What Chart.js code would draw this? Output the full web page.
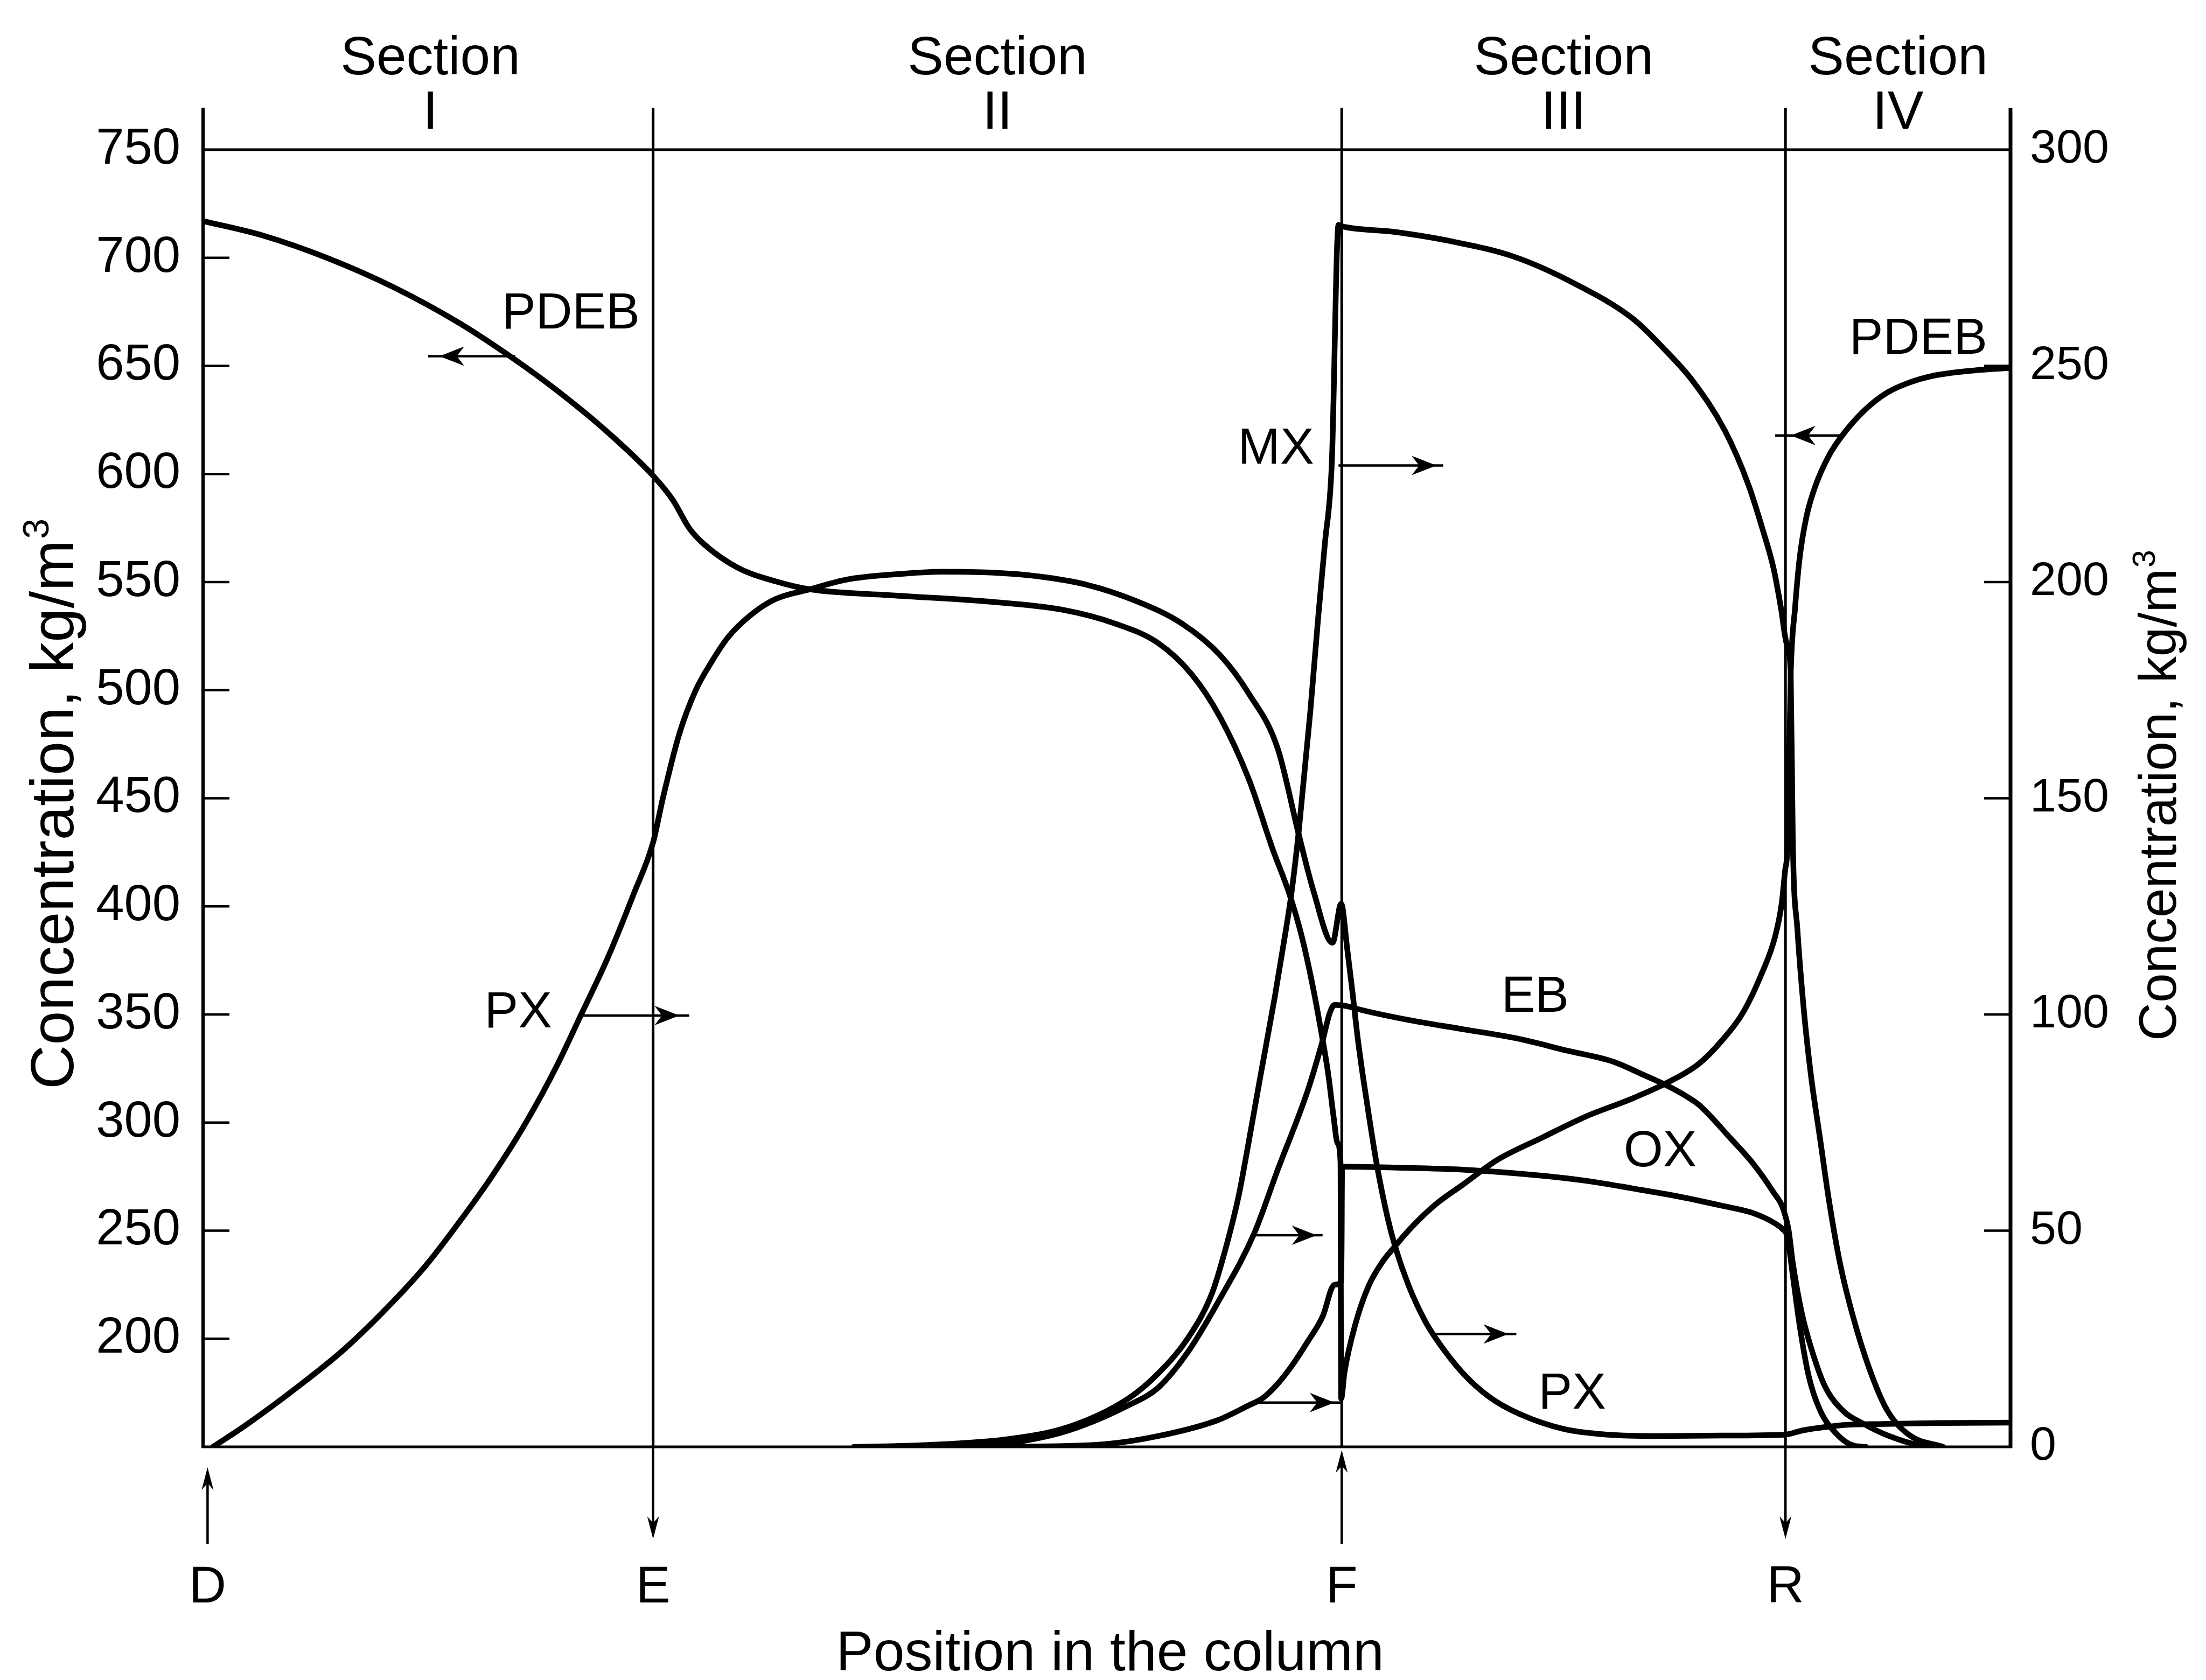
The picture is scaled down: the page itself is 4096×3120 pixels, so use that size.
<!DOCTYPE html>
<html>
<head>
<meta charset="utf-8">
<script src="https://cdn.jsdelivr.net/npm/chart.js@4.4.1/dist/chart.umd.min.js"></script>
<style>
  html, body { margin: 0; padding: 0; background: #ffffff; overflow: hidden; }
  canvas { display: block; }
</style>
</head>
<body>
<canvas id="profile" width="4096" height="3120"></canvas>
<script>
// Concentration profiles along a simulated moving bed column (Parex-type xylene separation).
// Position is expressed as % of the column length, measured from the desorbent inlet.

// Ports and sections
const PORTS = ['D', 'E', 'F', 'R'];
const PORT_POSITION = [0.25, 24.9, 63.0, 87.55];
const PORT_FLOW = ['in', 'out', 'in', 'out'];
const SECTIONS = ['I', 'II', 'III', 'IV'];

// Axis ticks
const LEFT_TICKS = [200, 250, 300, 350, 400, 450, 500, 550, 600, 650, 700, 750];
const RIGHT_TICKS = [0, 50, 100, 150, 200, 250, 300];

// PDEB (desorbent), left axis, kg/m3
const POSITION_PDEB = [0, 3.27, 6.91, 10.54, 14.18, 17.27, 19.63, 22.36, 24.9, 25.99,
  26.9, 27.72, 29.57, 31.69, 33.54, 38.3, 43.58, 47.55, 50.46, 52.84,
  54.69, 56.27, 57.86, 59.18, 60.1, 60.77, 61.36, 61.81, 62.25, 62.55,
  62.77, 62.93, 62.97, 63.15, 63.74, 64.48, 65.23, 65.9, 66.72, 68.2,
  69.69, 71.6, 74.08, 76.56, 79.04, 81.02, 82.76, 84.0, 85.23, 86.22,
  86.97, 87.34, 87.53, 87.66, 87.84, 88.08, 88.34, 88.71, 89.2, 89.95,
  90.69, 91.93, 93.17, 94.41, 95.65, 97.51, 100];
const CONC_PDEB = [717, 710.4, 699.8, 686.4, 669.8, 652.8, 638.3, 619.5, 599.2, 588,
  574.9, 567.5, 556.7, 550.3, 546.7, 543.8, 540.9, 537.2, 530.8, 521.8,
  507.4, 487.5, 458.8, 426.4, 405.8, 386.7, 364.6, 344.6, 322.6, 302.6,
  290.4, 282, 172.3, 184.3, 206.3, 224.3, 235.3, 242.3, 250.3, 262.2,
  271.2, 282.7, 293.0, 303.0, 311.0, 318.5, 327.2, 337.6, 351.3, 368.6,
  385.8, 401.3, 416.6, 428.2, 507.4, 538.0, 561.5, 580.2, 594.3, 608.4,
  617.8, 629.5, 637.6, 642.3, 645.3, 647.5, 649.1];

// PX (p-xylene), right axis, kg/m3
const POSITION_PX = [0.55, 2.36, 5.09, 7.82, 10.54, 12.36, 14.18, 15.99, 17.81, 19.63,
  20.9, 22.36, 23.81, 24.9, 25.44, 26.35, 27.26, 28.13, 29.04, 30.37,
  31.69, 33.54, 35.65, 38.3, 40.94, 43.58, 46.23, 48.87, 51.51, 54.16,
  56.27, 57.86, 59.45, 60.63, 61.44, 62.49, 62.97, 63.3, 63.59, 63.89,
  64.19, 64.48, 64.93, 65.53, 65.97, 66.72, 67.61, 68.2, 69.69, 71.18,
  72.84, 75.32, 77.8, 80.28, 84.0, 87.5, 88.5, 89.8, 91.0, 93.0,
  96.0, 100];
const CONC_PX = [0, 5.0, 13.4, 22.6, 33.7, 42.1, 52.0, 62.6, 74.6, 88.6,
  99.8, 112.8, 127.7, 139.8, 150.0, 164.9, 175.0, 181.5, 187.2, 192.6,
  196.1, 198.3, 200.6, 201.8, 202.4, 202.2, 201.3, 199.4, 195.8, 190.4,
  183.1, 174.2, 161.6, 141.5, 128.5, 116.6, 125.6, 115.3, 105.3, 94.3,
  85.2, 77.2, 65.5, 53.1, 46.1, 37.1, 29.1, 25.1, 17.1, 11.5,
  7.6, 4.1, 2.8, 2.5, 2.6, 2.8, 3.8, 4.6, 5.1, 5.3,
  5.5, 5.6];

// MX (m-xylene), right axis, kg/m3
const POSITION_MX = [36, 40, 44.59, 47.89, 51.2, 52.85, 54.5, 55.82, 56.65, 57.31,
  57.81, 58.47, 59.29, 59.79, 60.2, 60.63, 61.26, 61.7, 62.07, 62.45,
  62.82, 63.0, 65.89, 69.2, 72.5, 75.81, 79.11, 80.77, 82.42, 84.2,
  85.5, 86.3, 86.9, 87.3, 87.6, 87.84, 87.96, 88.21, 88.58, 88.96,
  89.46, 89.96, 90.57, 91.31, 92.18, 93.17, 94.41, 96.27];
const CONC_MX = [0, 0.4, 1.8, 4.6, 11.2, 17.0, 25.2, 35.5, 47.0, 58.3,
  69.5, 85.0, 103.9, 116.5, 127.5, 142.7, 170.0, 192.0, 209.0, 227.5,
  282.6, 282.3, 281.0, 278.7, 275.3, 269.2, 260.9, 254.2, 246.5, 235.0,
  222.5, 212.0, 203.0, 194.0, 186.0, 178.8, 139.1, 119.7, 100.4, 85.9,
  71.4, 56.9, 42.4, 29.8, 18.2, 8.5, 2.7, 0];

// EB (ethylbenzene), right axis, kg/m3
const POSITION_EB = [38, 41.5, 44.59, 47.89, 51.2, 52.85, 54.5, 56.16, 58.14, 59.46,
  61.11, 61.94, 62.35, 62.6, 63.42, 63.74, 66.72, 69.69, 72.75, 75.5,
  78.0, 79.66, 81.02, 82.02, 82.76, 84.5, 85.8, 86.9, 87.4, 87.72,
  87.96, 88.46, 88.96, 89.7, 90.69, 91.93, 93.17, 95.03, 96.0];
const CONC_EB = [0, 0.3, 0.9, 3.8, 9.6, 13.7, 22.0, 33.5, 49.2, 64.1,
  82.3, 93.9, 100.5, 102.2, 101.8, 101.4, 98.7, 96.6, 94.4, 91.6,
  89.1, 86.1, 83.5, 81.2, 79.1, 71.4, 65.3, 58.8, 55.3, 50.2,
  42.4, 30.8, 23.0, 14.3, 8.5, 5.2, 2.7, 0.3, 0];

// OX (o-xylene), right axis, kg/m3
const POSITION_OX = [44, 49.55, 52.85, 56.16, 57.81, 58.64, 59.46, 60.28, 61.11, 61.94,
  62.6, 62.98, 63.02, 63.18, 66.72, 69.69, 74.1, 76.56, 79.04, 81.52,
  83.99, 85.8, 87.0, 87.4, 87.65, 87.96, 88.34, 88.84, 89.46, 90.45,
  91.31, 92.0];
const CONC_OX = [0, 0.5, 2.5, 6.2, 9.5, 11.3, 14.6, 19.0, 24.3, 30.1,
  37.5, 38.3, 64.8, 64.8, 64.5, 64.1, 62.7, 61.5, 59.8, 58.0,
  55.8, 54.0, 51.6, 50.3, 48.6, 39.5, 27.9, 16.3, 8.5, 2.7,
  0.3, 0];

// Curve names written on the plot (anchored in position / left-axis units)
const CURVE_TAGS = [
  { text: 'PDEB', x: 20.35, y: 675.8 },
  { text: 'PX',   x: 17.44, y: 352.4 },
  { text: 'MX',   x: 59.36, y: 613.2 },
  { text: 'EB',   x: 73.70, y: 359.7 },
  { text: 'OX',   x: 80.62, y: 288.1 },
  { text: 'PX',   x: 75.75, y: 176.1 },
  { text: 'PDEB', x: 94.90, y: 663.9 }
];

// Pointers telling which axis a curve belongs to
const POINTERS = [
  { from: 17.27, tip: 13.08, end: 12.45, y: 654.5 },
  { from: 20.90, tip: 26.35, end: 26.90, y: 349.5 },
  { from: 62.82, tip: 68.24, end: 68.62, y: 603.9 },
  { from: 58.14, tip: 61.61, end: 61.94, y: 247.9 },
  { from: 58.38, tip: 62.60, end: 62.93, y: 170.5 },
  { from: 67.90, tip: 72.22, end: 72.66, y: 202.2 },
  { from: 90.57, tip: 87.84, end: 86.98, y: 617.8 }
];

const FONT = "'Liberation Sans', Arial, Helvetica, sans-serif";
const INK = '#000000';

function points(xs, ys) {
  return xs.map((x, i) => ({ x: x, y: ys[i] }));
}

function curve(name, xs, ys, axis) {
  return {
    label: name,
    data: points(xs, ys),
    yAxisID: axis,
    borderColor: INK,
    borderWidth: 10.5,
    pointRadius: 0,
    fill: false,
    cubicInterpolationMode: 'monotone',
    borderJoinStyle: 'round',
    borderCapStyle: 'round'
  };
}

function seg(ctx, x1, y1, x2, y2) {
  ctx.beginPath();
  ctx.moveTo(x1, y1);
  ctx.lineTo(x2, y2);
  ctx.stroke();
}

// barbed arrow head, (dx, dy) = unit direction of travel
function head(ctx, tx, ty, dx, dy, len, half) {
  const bx = tx - dx * len, by = ty - dy * len;
  const nx = -dy, ny = dx;
  const mx = tx - dx * len * 0.7, my = ty - dy * len * 0.7;
  ctx.beginPath();
  ctx.moveTo(tx, ty);
  ctx.lineTo(bx + nx * half, by + ny * half);
  ctx.lineTo(mx, my);
  ctx.lineTo(bx - nx * half, by - ny * half);
  ctx.closePath();
  ctx.fill();
}

function rotatedTitle(ctx, cx, cy, main, sup, size) {
  ctx.save();
  ctx.translate(cx, cy);
  ctx.rotate(-Math.PI / 2);
  const supSize = Math.round(size * 0.6);
  ctx.font = size + 'px ' + FONT;
  const w1 = ctx.measureText(main).width;
  ctx.font = supSize + 'px ' + FONT;
  const w2 = ctx.measureText(sup).width;
  const start = -(w1 + w2) / 2;
  ctx.textAlign = 'left';
  ctx.textBaseline = 'alphabetic';
  ctx.font = size + 'px ' + FONT;
  ctx.fillText(main, start, 0);
  ctx.font = supSize + 'px ' + FONT;
  ctx.fillText(sup, start + w1 + 2, -size * 0.4);
  ctx.restore();
}

const framePlugin = {
  id: 'columnFrame',
  beforeDatasetsDraw(chart) {
    const ctx = chart.ctx;
    const a = chart.chartArea;
    const x = chart.scales.x, y = chart.scales.y, y2 = chart.scales.y2;
    const lineTop = 200;
    ctx.save();
    ctx.strokeStyle = INK;
    ctx.fillStyle = INK;
    ctx.lineCap = 'butt';

    // top and bottom boundaries
    ctx.lineWidth = 5;
    seg(ctx, a.left - 3, a.top, a.right + 3, a.top);
    seg(ctx, a.left - 3, a.bottom, a.right + 3, a.bottom);
    // side axes, extended above the plot like the section dividers
    ctx.lineWidth = 6;
    seg(ctx, a.left, lineTop, a.left, a.bottom + 2);
    ctx.lineWidth = 7;
    seg(ctx, a.right, lineTop, a.right, a.bottom + 2);

    // inward tick marks
    ctx.lineWidth = 4.5;
    const tl = 49;
    LEFT_TICKS.forEach(v => {
      if (v >= 750) return;
      const py = y.getPixelForValue(v);
      seg(ctx, a.left, py, a.left + tl, py);
    });
    RIGHT_TICKS.forEach(v => {
      if (v <= 0 || v >= 300) return;
      const py = y2.getPixelForValue(v);
      seg(ctx, a.right - tl, py, a.right, py);
    });

    // section dividers at the E, F and R ports
    ctx.lineWidth = 5;
    PORT_POSITION.forEach((p, i) => {
      if (i === 0) return;
      const px = x.getPixelForValue(p);
      seg(ctx, px, lineTop, px, a.bottom);
    });
    ctx.restore();
  },
  afterDatasetsDraw(chart) {
    const ctx = chart.ctx;
    const a = chart.chartArea;
    const x = chart.scales.x, y = chart.scales.y;
    ctx.save();
    ctx.strokeStyle = INK;
    ctx.fillStyle = INK;

    // section headings
    const bounds = PORT_POSITION.concat([100]);
    ctx.font = '100px ' + FONT;
    ctx.textAlign = 'center';
    ctx.textBaseline = 'alphabetic';
    SECTIONS.forEach((s, i) => {
      const px = x.getPixelForValue((bounds[i] + bounds[i + 1]) / 2);
      ctx.fillText('Section', px, 138);
      ctx.fillText(s, px, 239);
    });

    // port streams below the column
    ctx.lineWidth = 4.5;
    PORTS.forEach((name, i) => {
      const px = x.getPixelForValue(PORT_POSITION[i]);
      if (PORT_FLOW[i] === 'in') {
        const tip = i === 0 ? a.bottom + 38 : a.bottom + 6;
        seg(ctx, px, 2867, px, tip + 20);
        head(ctx, px, tip, 0, -1, 42, 11);
      } else {
        const tip = 2858;
        seg(ctx, px, a.bottom, px, tip - 20);
        head(ctx, px, tip, 0, 1, 42, 11);
      }
      ctx.font = '96px ' + FONT;
      ctx.textAlign = 'center';
      ctx.fillText(name, px, 2976);
    });

    // curve names
    ctx.font = '94px ' + FONT;
    ctx.textAlign = 'center';
    ctx.textBaseline = 'alphabetic';
    CURVE_TAGS.forEach(t => {
      ctx.fillText(t.text, x.getPixelForValue(t.x), y.getPixelForValue(t.y) + 94 * 0.716 / 2);
    });

    // axis pointers
    ctx.lineWidth = 4.5;
    POINTERS.forEach(p => {
      const py = y.getPixelForValue(p.y);
      const x1 = x.getPixelForValue(p.from);
      const xt = x.getPixelForValue(p.tip);
      const xe = x.getPixelForValue(p.end);
      seg(ctx, x1, py, xe, py);
      head(ctx, xt, py, xt > x1 ? 1 : -1, 0, 46, 18);
    });

    // axis titles
    ctx.fillStyle = INK;
    rotatedTitle(ctx, 136, 1494, 'Concentration, kg/m', '3', 114);
    rotatedTitle(ctx, 4040, 1478, 'Concentration, kg/m', '3', 98);
    ctx.font = '104px ' + FONT;
    ctx.textAlign = 'center';
    ctx.textBaseline = 'alphabetic';
    ctx.fillText('Position in the column', (a.left + a.right) / 2 + 6, 3102);
    ctx.restore();
  }
};

new Chart(document.getElementById('profile'), {
  type: 'line',
  data: {
    datasets: [
      curve('PDEB', POSITION_PDEB, CONC_PDEB, 'y'),
      curve('PX', POSITION_PX, CONC_PX, 'y2'),
      curve('MX', POSITION_MX, CONC_MX, 'y2'),
      curve('EB', POSITION_EB, CONC_EB, 'y2'),
      curve('OX', POSITION_OX, CONC_OX, 'y2')
    ]
  },
  options: {
    responsive: false,
    animation: false,
    devicePixelRatio: 1,
    layout: { padding: { top: 278, left: 0, right: 0, bottom: 0 } },
    plugins: { legend: { display: false }, tooltip: { enabled: false } },
    elements: { point: { radius: 0 } },
    scales: {
      x: {
        type: 'linear', min: 0, max: 100,
        grid: { display: false, drawTicks: false },
        border: { display: false },
        ticks: { display: false },
        afterFit: s => { s.height = 433; }
      },
      y: {
        type: 'linear', position: 'left', min: 150, max: 750,
        grid: { display: false, drawTicks: false },
        border: { display: false },
        afterBuildTicks: s => { s.ticks = LEFT_TICKS.map(v => ({ value: v })); },
        ticks: {
          autoSkip: false, padding: 42, color: INK,
          font: { family: FONT, size: 94 },
          callback: v => String(v)
        },
        afterFit: s => { s.width = 377; }
      },
      y2: {
        type: 'linear', position: 'right', min: 0, max: 300,
        grid: { display: false, drawTicks: false },
        border: { display: false },
        afterBuildTicks: s => { s.ticks = RIGHT_TICKS.map(v => ({ value: v })); },
        ticks: {
          autoSkip: false, padding: 36, color: INK,
          font: { family: FONT, size: 88 },
          callback: v => String(v)
        },
        afterFit: s => { s.width = 363; }
      }
    }
  },
  plugins: [framePlugin]
});
</script>
</body>
</html>
